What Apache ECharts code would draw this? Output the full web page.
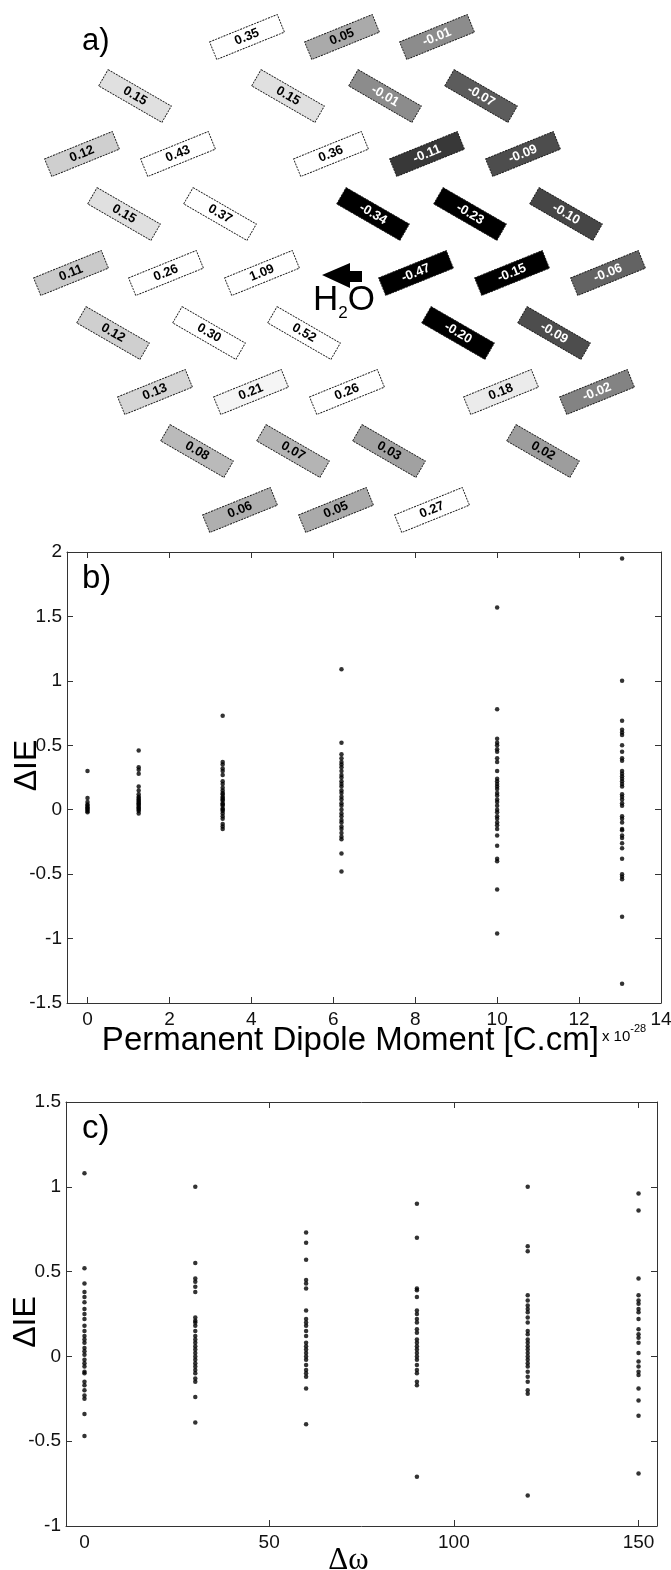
<!DOCTYPE html>
<html>
<head>
<meta charset="utf-8">
<script src="https://cdn.jsdelivr.net/npm/echarts@6/dist/echarts.min.js"></script>
<style>
  html, body { margin: 0; padding: 0; background: #fff; }
  #chart { width: 671px; height: 1570px; }
</style>
</head>
<body>
<div id="chart"></div>
<script>
/* ---------------------------- panel a) molecules --------------------------- */
// lattice position of each molecule (layout units of panel a), its ΔIE and tilt
var molX = [247, 342, 437,
  135, 288, 385, 481,
  82, 178, 331, 427, 523,
  124, 220, 373, 470, 566,
  71, 166, 262, 416, 512, 608,
  113, 209, 304, 458, 554,
  155, 251, 347, 501, 597,
  197, 293, 389, 543,
  240, 336, 432];
var molY = [37, 37, 37,
  96, 96, 96, 96,
  154, 154, 154, 154, 154,
  214, 214, 214, 214, 214,
  273, 273, 273, 273, 273, 273,
  333, 333, 333, 333, 333,
  392, 392, 392, 392, 392,
  451, 451, 451, 451,
  510, 510, 510];
var molIE = [0.35, 0.05, -0.01,
  0.15, 0.15, -0.01, -0.07,
  0.12, 0.43, 0.36, -0.11, -0.09,
  0.15, 0.37, -0.34, -0.23, -0.10,
  0.11, 0.26, 1.09, -0.47, -0.15, -0.06,
  0.12, 0.30, 0.52, -0.20, -0.09,
  0.13, 0.21, 0.26, 0.18, -0.02,
  0.08, 0.07, 0.03, 0.02,
  0.06, 0.05, 0.27];
var molTilt = ['u', 'u', 'u',
  'd', 'd', 'd', 'd',
  'u', 'u', 'u', 'u', 'u',
  'd', 'd', 'd', 'd', 'd',
  'u', 'u', 'u', 'u', 'u', 'u',
  'd', 'd', 'd', 'd', 'd',
  'u', 'u', 'u', 'u', 'u',
  'd', 'd', 'd', 'd',
  'u', 'u', 'u'];

/* ------------------------ panel b) ΔIE vs dipole moment ------------------------ */
var dipoleX = [0, 1.25, 3.3, 6.2, 10, 13.05];
var ieDipole = [
  [0.30, 0.09, 0.06, 0.04, 0.03, 0.02, 0.01, 0.00, -0.01, -0.02],
  [0.46, 0.33, 0.31, 0.28, 0.18, 0.15, 0.12, 0.10, 0.09, 0.08, 0.07, 0.06, 0.05, 0.04, 0.03, 0.02, 0.01, 0.00, -0.01, -0.03],
  [0.73, 0.37, 0.35, 0.32, 0.30, 0.27, 0.22, 0.20, 0.17, 0.15, 0.13, 0.12, 0.10, 0.09, 0.08, 0.07, 0.05, 0.04, 0.03, 0.01, 0.00, -0.01, -0.03, -0.05, -0.07, -0.11, -0.13, -0.15],
  [1.09, 0.52, 0.43, 0.40, 0.37, 0.35, 0.33, 0.30, 0.27, 0.25, 0.22, 0.20, 0.18, 0.15, 0.13, 0.10, 0.08, 0.05, 0.03, 0.00, -0.03, -0.05, -0.08, -0.10, -0.13, -0.15, -0.18, -0.21, -0.23, -0.34, -0.48],
  [1.57, 0.78, 0.55, 0.52, 0.50, 0.47, 0.45, 0.40, 0.37, 0.30, 0.24, 0.22, 0.20, 0.18, 0.16, 0.13, 0.11, 0.08, 0.06, 0.03, 0.00, -0.02, -0.05, -0.07, -0.10, -0.12, -0.15, -0.20, -0.28, -0.38, -0.40, -0.62, -0.96],
  [1.95, 1.00, 0.69, 0.62, 0.60, 0.58, 0.50, 0.45, 0.40, 0.38, 0.30, 0.28, 0.26, 0.24, 0.22, 0.20, 0.18, 0.12, 0.10, 0.08, 0.05, 0.03, -0.05, -0.07, -0.10, -0.15, -0.16, -0.20, -0.22, -0.26, -0.30, -0.38, -0.50, -0.52, -0.54, -0.83, -1.35]
];
var dipoleTicks = [0, 2, 4, 6, 8, 10, 12, 14];

/* ------------------------------ panel c) ΔIE vs Δω ----------------------------- */
var omegaX = [0, 30, 60, 90, 120, 150];
var ieOmega = [
  [1.08, 0.52, 0.43, 0.38, 0.35, 0.32, 0.28, 0.25, 0.22, 0.18, 0.15, 0.12, 0.10, 0.08, 0.05, 0.03, 0.01, -0.02, -0.04, -0.06, -0.09, -0.10, -0.15, -0.17, -0.20, -0.23, -0.25, -0.34, -0.47],
  [1.00, 0.55, 0.46, 0.44, 0.41, 0.38, 0.23, 0.21, 0.20, 0.18, 0.15, 0.12, 0.10, 0.08, 0.06, 0.04, 0.02, 0.00, -0.02, -0.04, -0.06, -0.08, -0.10, -0.13, -0.15, -0.24, -0.39],
  [0.73, 0.67, 0.57, 0.45, 0.43, 0.40, 0.27, 0.22, 0.20, 0.18, 0.15, 0.12, 0.08, 0.06, 0.04, 0.02, 0.00, -0.02, -0.05, -0.08, -0.10, -0.12, -0.19, -0.40],
  [0.90, 0.70, 0.40, 0.39, 0.35, 0.27, 0.25, 0.22, 0.20, 0.16, 0.14, 0.10, 0.08, 0.06, 0.04, 0.02, 0.00, -0.02, -0.05, -0.08, -0.10, -0.15, -0.17, -0.71],
  [1.00, 0.65, 0.62, 0.36, 0.33, 0.30, 0.28, 0.26, 0.23, 0.20, 0.15, 0.13, 0.10, 0.08, 0.06, 0.04, 0.02, 0.00, -0.02, -0.04, -0.06, -0.09, -0.12, -0.15, -0.20, -0.22, -0.82],
  [0.96, 0.86, 0.46, 0.36, 0.33, 0.31, 0.28, 0.26, 0.22, 0.16, 0.13, 0.11, 0.08, 0.02, -0.03, -0.06, -0.09, -0.11, -0.19, -0.26, -0.35, -0.69]
];
var omegaLabels = [0, 50, 100, 150];
var omegaTicks = [50, 100, 150];

document.addEventListener('DOMContentLoaded', function () {
  var chartDom = document.getElementById('chart');
  var myChart = echarts.init(chartDom, null, { renderer: 'canvas' });
  var font = 'Liberation Sans';

  var flatten = function (xs, cols) {
    var out = [];
    cols.forEach(function (col, i) {
      col.forEach(function (v) { out.push([xs[i], v]); });
    });
    return out;
  };

  // one tilted box per molecule, filled through the visualMap grey scale
  var renderMolecule = function (params, api) {
    var pt = api.coord([api.value(0), api.value(1)]);
    var v = api.value(2);
    var rot = molTilt[params.dataIndex] === 'u' ? 22 : -30;
    return {
      type: 'group',
      x: pt[0],
      y: pt[1],
      rotation: rot * Math.PI / 180,
      children: [{
        type: 'rect',
        shape: { x: -36.5, y: -9.5, width: 73, height: 19 },
        style: { fill: api.visual('color'), stroke: '#1a1a1a', lineWidth: 0.9, lineDash: [2, 1] }
      }, {
        type: 'text',
        style: {
          text: v.toFixed(2), x: 0, y: 0, align: 'center', verticalAlign: 'middle',
          fill: v < 0 ? '#ffffff' : '#000000',
          fontSize: 13, fontWeight: 'bold', fontFamily: font
        }
      }]
    };
  };

  var axisLine = { onZero: false, lineStyle: { color: '#333', width: 1 } };
  var tick = { inside: true, length: 6, lineStyle: { color: '#333', width: 1 } };
  var tickLabel = { color: '#111', fontSize: 19, fontFamily: font };

  var option = {
    animation: false,
    backgroundColor: '#fff',
    grid: [
      { left: 0, top: 0, width: 671, height: 540, outerBoundsMode: 'none' },
      { left: 67, top: 552, width: 594, height: 451, outerBoundsMode: 'none' },
      { left: 66, top: 1102, width: 591, height: 424, outerBoundsMode: 'none' }
    ],
    visualMap: {
      type: 'continuous',
      show: false,
      seriesIndex: 0,
      dimension: 2,
      min: -0.15,
      max: 0.25,
      inRange: {
        color: ['#000000', '#464646', '#6a6a6a', '#949494', '#aaaaaa', '#c4c4c4', '#e0e0e0', '#f3f3f3', '#ffffff']
      }
    },
    xAxis: [
      { gridIndex: 0, type: 'value', min: 0, max: 671, show: false },
      {
        gridIndex: 1, type: 'value', min: -0.5, max: 14, position: 'bottom',
        axisLine: axisLine, splitLine: { show: false },
        axisTick: Object.assign({ customValues: dipoleTicks }, tick),
        axisLabel: Object.assign({ customValues: dipoleTicks, margin: 7 }, tickLabel),
        name: '{a|Permanent Dipole Moment [C.cm]}{b|x 10}{c|-28}',
        nameLocation: 'middle', nameGap: 18, nameMoveOverlap: false,
        nameTextStyle: {
          padding: [0, 0, 0, 20],
          rich: {
            a: { fontSize: 33, lineHeight: 36, fontFamily: font, color: '#000', verticalAlign: 'bottom' },
            b: { fontSize: 15, fontFamily: font, color: '#000', verticalAlign: 'bottom', padding: [0, 0, 13, 3] },
            c: { fontSize: 11, fontFamily: font, color: '#000', verticalAlign: 'bottom', padding: [0, 0, 23, 0] }
          }
        }
      },
      {
        gridIndex: 1, type: 'value', min: -0.5, max: 14, position: 'top',
        axisLine: axisLine, splitLine: { show: false },
        axisTick: Object.assign({ customValues: dipoleTicks }, tick),
        axisLabel: { show: false }
      },
      {
        gridIndex: 2, type: 'value', min: -5, max: 155, position: 'bottom',
        axisLine: axisLine, splitLine: { show: false },
        axisTick: Object.assign({ customValues: omegaTicks }, tick),
        axisLabel: Object.assign({ customValues: omegaLabels, margin: 7 }, tickLabel),
        name: 'Δω', nameLocation: 'middle', nameGap: 19, nameMoveOverlap: false,
        nameTextStyle: { fontSize: 31, fontFamily: 'Liberation Serif', color: '#000', padding: [0, 26, 0, 0] }
      },
      {
        gridIndex: 2, type: 'value', min: -5, max: 155, position: 'top',
        axisLine: axisLine, splitLine: { show: false },
        axisTick: Object.assign({ customValues: omegaTicks }, tick),
        axisLabel: { show: false }
      }
    ],
    yAxis: [
      { gridIndex: 0, type: 'value', min: 0, max: 540, inverse: true, show: false },
      {
        gridIndex: 1, type: 'value', min: -1.5, max: 2, interval: 0.5, position: 'left',
        axisLine: Object.assign({ show: true }, axisLine), splitLine: { show: false },
        axisTick: tick, axisLabel: Object.assign({ margin: 5 }, tickLabel),
        name: 'ΔIE', nameLocation: 'middle', nameRotate: 90, nameGap: 24, nameMoveOverlap: false,
        nameTextStyle: { fontSize: 32, fontFamily: font, color: '#000', padding: [0, 0, 0, 24] }
      },
      {
        gridIndex: 1, type: 'value', min: -1.5, max: 2, interval: 0.5, position: 'right',
        axisLine: Object.assign({ show: true }, axisLine), splitLine: { show: false },
        axisTick: tick, axisLabel: { show: false }
      },
      {
        gridIndex: 2, type: 'value', min: -1, max: 1.5, interval: 0.5, position: 'left',
        axisLine: Object.assign({ show: true }, axisLine), splitLine: { show: false },
        axisTick: tick, axisLabel: Object.assign({ margin: 5 }, tickLabel),
        name: 'ΔIE', nameLocation: 'middle', nameRotate: 90, nameGap: 24, nameMoveOverlap: false,
        nameTextStyle: { fontSize: 32, fontFamily: font, color: '#000', padding: [0, 16, 0, 0] }
      },
      {
        gridIndex: 2, type: 'value', min: -1, max: 1.5, interval: 0.5, position: 'right',
        axisLine: Object.assign({ show: true }, axisLine), splitLine: { show: false },
        axisTick: tick, axisLabel: { show: false }
      }
    ],
    graphic: [
      { type: 'text', left: 82, top: 26, style: { text: 'a)', fontSize: 31, fontFamily: font, fill: '#000' } },
      { type: 'text', left: 82, top: 562, style: { text: 'b)', fontSize: 33, fontFamily: font, fill: '#000' } },
      { type: 'text', left: 82, top: 1112, style: { text: 'c)', fontSize: 33, fontFamily: font, fill: '#000' } },
      {
        type: 'polygon',
        shape: { points: [[322, 275], [350, 263], [350, 271], [362, 271], [362, 282], [350, 282], [350, 288]] },
        style: { fill: '#000' }
      },
      {
        type: 'text', left: 313, top: 283,
        style: {
          text: '{h|H}{s|2}{h|O}',
          rich: {
            h: { fontSize: 35, fontFamily: font, fill: '#000', verticalAlign: 'bottom' },
            s: { fontSize: 17, fontFamily: font, fill: '#000', verticalAlign: 'bottom', padding: [0, 0, -4, 0] }
          }
        }
      }
    ],
    series: [
      {
        type: 'custom',
        xAxisIndex: 0, yAxisIndex: 0,
        renderItem: renderMolecule,
        encode: { x: 0, y: 1 },
        silent: true,
        data: molX.map(function (x, i) { return [x, molY[i], molIE[i]]; })
      },
      {
        type: 'scatter',
        xAxisIndex: 1, yAxisIndex: 1,
        symbol: 'circle', symbolSize: 4.5,
        itemStyle: { color: '#000' },
        data: flatten(dipoleX, ieDipole)
      },
      {
        type: 'scatter',
        xAxisIndex: 3, yAxisIndex: 3,
        symbol: 'circle', symbolSize: 4.5,
        itemStyle: { color: '#000' },
        data: flatten(omegaX, ieOmega)
      }
    ]
  };

  option && myChart.setOption(option);
});
</script>
</body>
</html>
